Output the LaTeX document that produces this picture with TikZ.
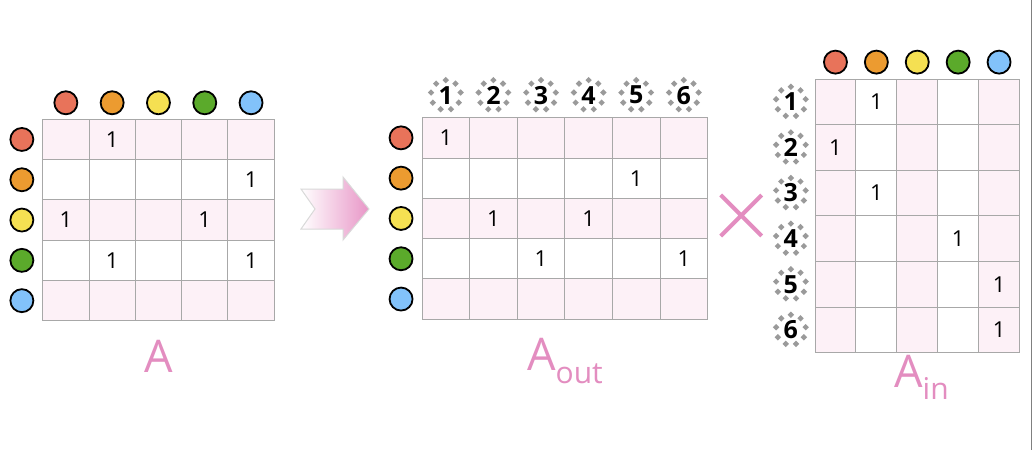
\documentclass[tikz,border=0pt]{standalone}
\usepackage{fontspec}
\setmainfont{Open Sans}
\usepackage{tikz}

\definecolor{cellpink}{HTML}{FDF1F7}
\definecolor{gridgray}{HTML}{A8A8A8}
\definecolor{labelpink}{HTML}{E38DC0}
\definecolor{arrowpink}{HTML}{E896C7}
\definecolor{dotgray}{HTML}{9A9A9A}
\definecolor{cred}{HTML}{E8735A}
\definecolor{corange}{HTML}{EC9B30}
\definecolor{cyellow}{HTML}{F5E052}
\definecolor{cgreen}{HTML}{5BAA2B}
\definecolor{cblue}{HTML}{82C2FA}

\begin{document}
\begin{tikzpicture}[x=1pt,y=-1pt,
    ball/.style={circle,draw=black,line width=1.8pt,minimum size=23pt,inner sep=0pt},
    one/.style={font=\fontsize{22}{22}\selectfont},
    idx/.style={font=\bfseries\fontsize{25}{25}\selectfont},
    lab/.style={text=labelpink,font=\fontsize{45}{45}\selectfont,inner sep=0pt},
    gridline/.style={draw=gridgray,line width=0.9pt},
    halo/.pic={\foreach \a in {0,40,...,320}
        \fill[dotgray] (\a+90:15pt) +(0,3.2pt) -- +(3.2pt,0) -- +(0,-3.2pt) -- +(-3.2pt,0) -- cycle;}]
  \useasboundingbox (0,0) rectangle (1032,450);
  \fill[white] (0,0) rectangle (1032,450);
  \draw[gray,line width=1pt] (1031,0) -- (1031,450);

  % A
  \begin{scope}[shift={(42.7,119.3)},x=46.3pt,y=-40.3pt]
    \foreach \r in {0,2,4} \fill[cellpink] (0,\r) rectangle (5,\r+1);
    \foreach \i in {0,...,5} \draw[gridline] (\i,0) -- (\i,5) (0,\i) -- (5,\i);
    \foreach \c [count=\i] in {cred,corange,cyellow,cgreen,cblue} {
      \node[ball,fill=\c] (A-col\i) at (\i-0.5,-0.41) {};
      \node[ball,fill=\c] (A-row\i) at (-0.45,\i-0.5) {};
    }
    \foreach \r/\c in {1/2,2/5,3/1,3/4,4/2,4/5}
      \node[one] at (\c-0.5,\r-0.5) {1};
  \end{scope}
  \node[lab,anchor=base] (A-name) at (159,372) {A};

  % arrow
  \shade[left color=white,right color=arrowpink,draw=gray!30,line width=1pt]
    (301,189) -- (343,189) -- (343,177) -- (369,209) -- (343,240) -- (343,229) -- (301,229) -- (315,209) -- cycle;

  % A out
  \begin{scope}[shift={(422,117.7)},x=47.6pt,y=-40.3pt]
    \foreach \r in {0,2,4} \fill[cellpink] (0,\r) rectangle (6,\r+1);
    \foreach \i in {0,...,6} \draw[gridline] (\i,0) -- (\i,5);
    \foreach \j in {0,...,5} \draw[gridline] (0,\j) -- (6,\j);
    \foreach \c [count=\i] in {cred,corange,cyellow,cgreen,cblue}
      \node[ball,fill=\c] (out-row\i) at (-0.44,\i-0.5) {};
    \foreach \i in {1,...,6} {
      \pic at (\i-0.5,-0.56) {halo};
      \node[idx] (out-col\i) at (\i-0.5,-0.56) {\i};
    }
    \foreach \r/\c in {1/1,2/5,3/2,3/4,4/3,4/6}
      \node[one] at (\c-0.5,\r-0.5) {1};
  \end{scope}
  \node[lab,anchor=base west] (out-name) at (527,370)
    {A\raisebox{-13pt}{\fontsize{30}{30}\selectfont out}};

  % times
  \draw[labelpink,line width=4pt] (720.7,195) -- (761.7,236) (720.7,236) -- (761.7,195);

  % A in
  \begin{scope}[shift={(815,79)},x=40.9pt,y=-45.6pt]
    \foreach \c in {0,2,4} \fill[cellpink] (\c,0) rectangle (\c+1,6);
    \foreach \i in {0,...,5} \draw[gridline] (\i,0) -- (\i,6);
    \foreach \j in {0,...,6} \draw[gridline] (0,\j) -- (5,\j);
    \foreach \c [count=\i] in {cred,corange,cyellow,cgreen,cblue}
      \node[ball,fill=\c] (in-col\i) at (\i-0.5,-0.37) {};
    \foreach \i in {1,...,6} {
      \pic at (-0.59,\i-0.5) {halo};
      \node[idx] (in-row\i) at (-0.59,\i-0.5) {\i};
    }
    \foreach \r/\c in {1/2,2/1,3/2,4/4,5/5,6/5}
      \node[one] at (\c-0.5,\r-0.5) {1};
  \end{scope}
  \node[lab,anchor=base west] (in-name) at (894,387)
    {A\raisebox{-12pt}{\fontsize{30}{30}\selectfont in}};
\end{tikzpicture}
\end{document}
